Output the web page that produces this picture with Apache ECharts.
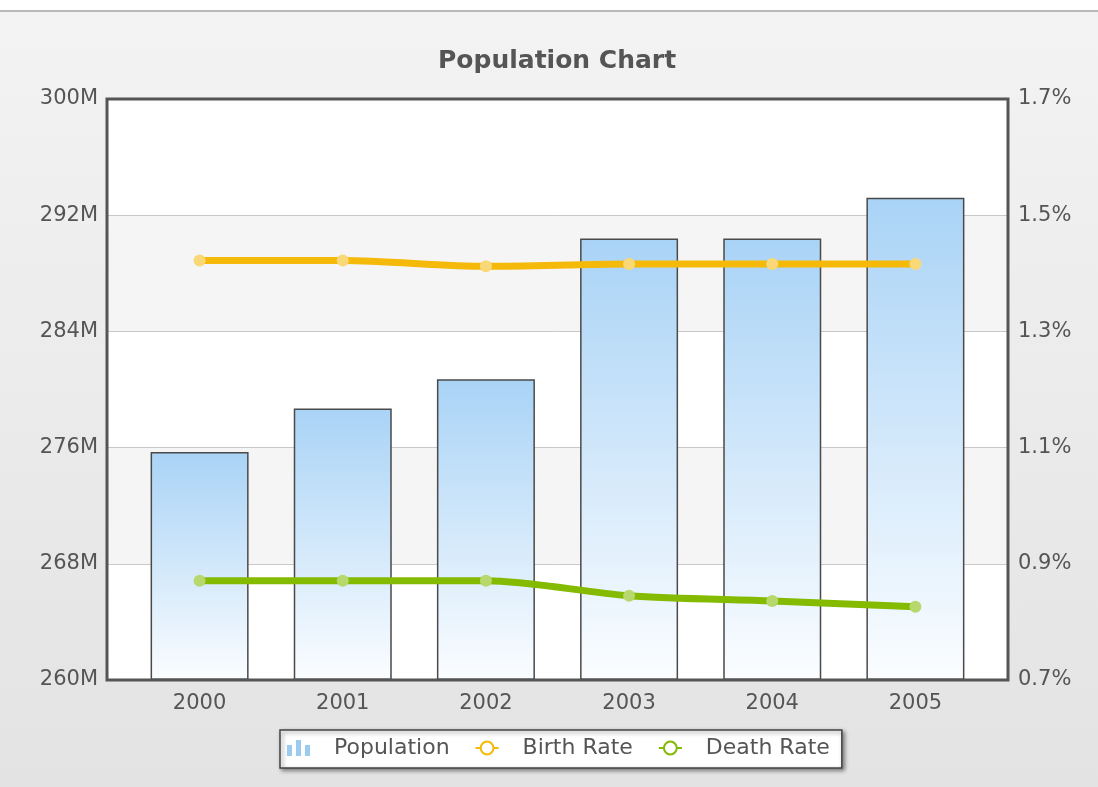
<!DOCTYPE html>
<html>
<head>
<meta charset="utf-8">
<script src="https://cdn.jsdelivr.net/npm/echarts@6/dist/echarts.min.js"></script>
<style>
  html, body { margin: 0; padding: 0; background: #fff; }
  #main {
    width: 1098px; height: 787px;
    background: linear-gradient(to bottom, #ffffff 0px, #ffffff 10px, #b8b8b8 10px, #b8b8b8 12px, #f3f3f3 12px, #e3e3e3 787px);
  }
</style>
</head>
<body>
<div id="main"></div>
<script>
// data
var years = ["2000", "2001", "2002", "2003", "2004", "2005"];
var population = [275.7, 278.7, 280.7, 290.4, 290.4, 293.2]; // millions
var birthRate = [1.422, 1.422, 1.412, 1.416, 1.416, 1.416];   // %
var deathRate = [0.871, 0.871, 0.871, 0.845, 0.836, 0.826];   // %

// axes start at 260M / 0.7%, ticks every 8M / 0.2%
var popBase = 260, popStep = 8, popSpan = 40;
var rateBase = 0.7, rateStep = 0.2, rateSpan = 1.0;

var textColor = "#555";
var font = "DejaVu Sans";

function shift(arr, base) {
  return arr.map(function (v) { return +(v - base).toFixed(4); });
}

var label = { color: textColor, fontSize: 21, fontFamily: font };
var hidden = { axisLine: { show: false }, axisTick: { show: false }, axisLabel: { show: false }, splitLine: { show: false } };

var myChart = echarts.init(document.getElementById("main"));
var option = {
  animation: false,
  title: {
    text: "Population Chart",
    left: 433,
    top: 44,
    textStyle: { color: textColor, fontSize: 25, fontWeight: "bold", fontFamily: font }
  },
  // grid 0: the framed plot with bands and tick labels; grid 1: the inset where the marks sit
  grid: [
    { left: 107, right: 90, top: 99, bottom: 107, show: true, backgroundColor: "#fff", borderWidth: 0 },
    { left: 128, right: 111, top: 99, bottom: 107 }
  ],
  graphic: [{
    type: "rect",
    z: 100,
    shape: { x: 107, y: 99, width: 901, height: 581 },
    style: { fill: null, stroke: "#555", lineWidth: 3 }
  }],
  legend: {
    left: 280,
    top: 730,
    padding: [7, 12, 9, 7],
    itemWidth: 23,
    itemHeight: 16,
    itemGap: 25,
    backgroundColor: "#fff",
    borderColor: "#444",
    borderWidth: 1.5,
    shadowColor: "rgba(0,0,0,0.45)",
    shadowBlur: 4,
    shadowOffsetX: 2,
    shadowOffsetY: 2,
    textStyle: { color: textColor, fontSize: 22, fontFamily: font, padding: [0, 0, 0, 19] },
    data: [
      { name: "Population", icon: "path://M0,5h5v11h-5zM9,0h5v16h-5zM18,5h5v11h-5z",
        itemStyle: { color: "#9ccbf0", borderWidth: 0 } },
      { name: "Birth Rate", itemStyle: { color: "#fff", borderColor: "#f5b90a", borderWidth: 2 } },
      { name: "Death Rate", itemStyle: { color: "#fff", borderColor: "#84ba00", borderWidth: 2 } }
    ]
  },
  xAxis: [
    Object.assign({ type: "category", gridIndex: 0, data: years }, hidden),
    {
      type: "category",
      gridIndex: 1,
      data: years,
      axisLine: { show: false },
      axisTick: { show: false },
      axisLabel: Object.assign({ margin: 13 }, label)
    }
  ],
  yAxis: [
    {
      type: "value",
      gridIndex: 0,
      min: 0, max: popSpan, interval: popStep,
      axisLine: { show: false },
      axisTick: { show: false },
      axisLabel: Object.assign({ margin: 9, formatter: function (v) { return (v + popBase) + "M"; } }, label),
      splitLine: { lineStyle: { color: "#c8c8c8", width: 1 } },
      splitArea: { show: true, areaStyle: { color: ["#ffffff", "#f5f5f5"] } }
    },
    {
      type: "value",
      gridIndex: 0,
      min: 0, max: rateSpan, interval: rateStep,
      axisLine: { show: false },
      axisTick: { show: false },
      splitLine: { show: false },
      axisLabel: Object.assign({ margin: 10, formatter: function (v) { return (v + rateBase).toFixed(1) + "%"; } }, label)
    },
    Object.assign({ type: "value", gridIndex: 1, min: 0, max: popSpan, interval: popStep }, hidden),
    Object.assign({ type: "value", gridIndex: 1, min: 0, max: rateSpan, interval: rateStep, position: "right" }, hidden)
  ],
  series: [
    {
      name: "Population",
      type: "bar",
      xAxisIndex: 1,
      yAxisIndex: 2,
      barWidth: 98,
      data: shift(population, popBase),
      itemStyle: {
        borderColor: "#4a4a4a",
        borderWidth: 1.5,
        color: new echarts.graphic.LinearGradient(0, 0, 0, 1, [
          { offset: 0, color: "#a9d3f6" },
          { offset: 1, color: "#fbfdff" }
        ])
      }
    },
    {
      name: "Birth Rate",
      type: "line",
      xAxisIndex: 1,
      yAxisIndex: 3,
      smooth: 0.3,
      symbol: "circle",
      symbolSize: 12,
      data: shift(birthRate, rateBase),
      lineStyle: { color: "#f5b90a", width: 7 },
      itemStyle: { color: "#f9d878", borderWidth: 0 }
    },
    {
      name: "Death Rate",
      type: "line",
      xAxisIndex: 1,
      yAxisIndex: 3,
      smooth: 0.3,
      symbol: "circle",
      symbolSize: 12,
      data: shift(deathRate, rateBase),
      lineStyle: { color: "#84ba00", width: 7 },
      itemStyle: { color: "#b6d86c", borderWidth: 0 }
    }
  ]
};
myChart.setOption(option);
</script>
</body>
</html>
